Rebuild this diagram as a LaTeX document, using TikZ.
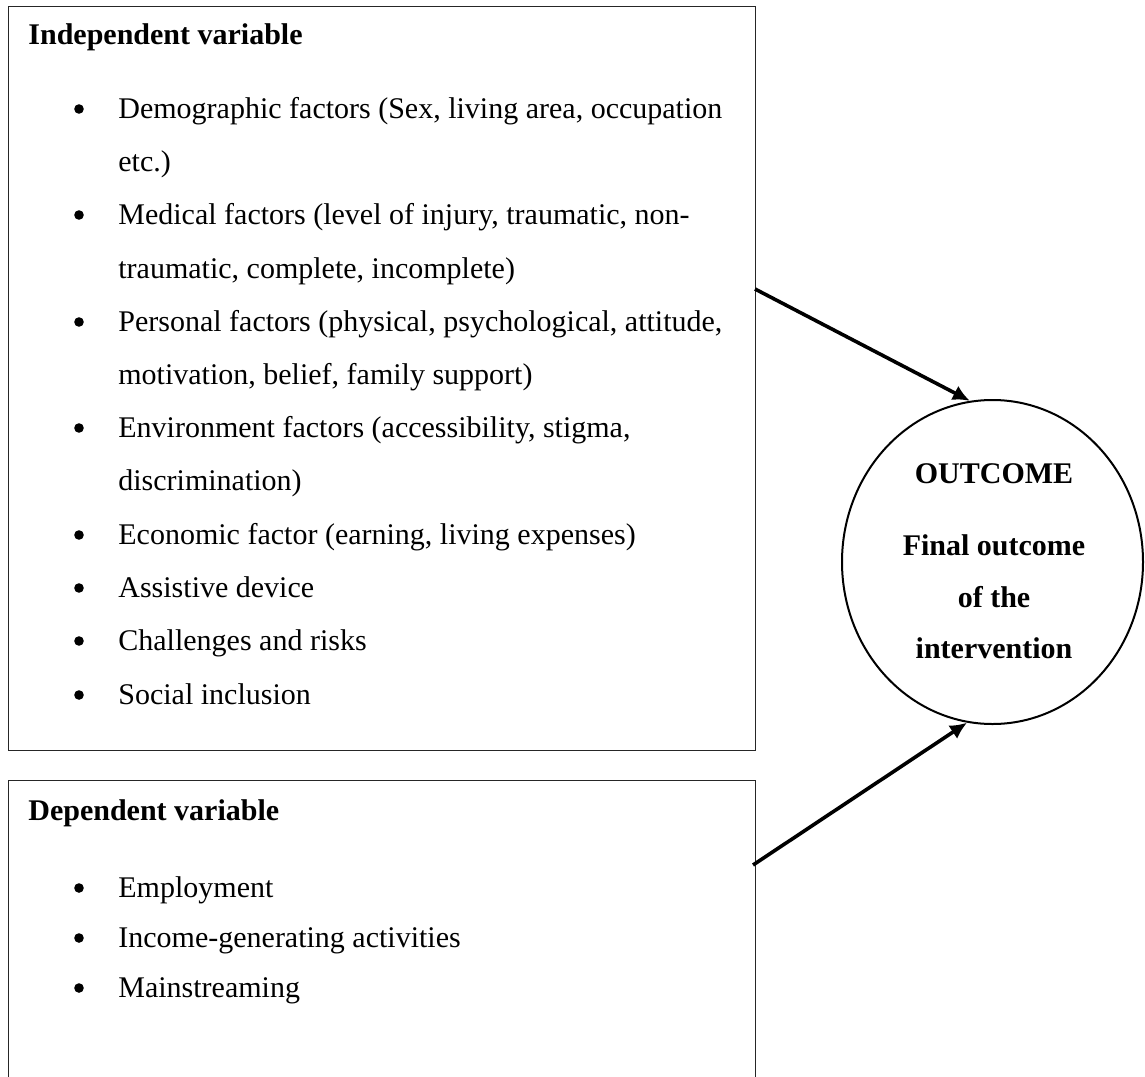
\documentclass[tikz,border=0pt]{standalone}
\usepackage{fontspec}
\setmainfont{Liberation Serif}
\usetikzlibrary{arrows.meta, shapes.geometric}

\tikzset{
  varbox/.style={draw=black!85, line width=0.7pt, rectangle, inner sep=0pt, anchor=north west},
  txt/.style={anchor=base west, inner sep=0pt, font=\fontsize{15}{18}\selectfont},
  head/.style={txt, font=\fontsize{15}{18}\selectfont\bfseries},
  dot/.style={circle, fill, inner sep=0pt, minimum size=4.8pt, yshift=4.5pt},
  outtxt/.style={anchor=base, inner sep=0pt, font=\fontsize{15}{18}\selectfont\bfseries},
  flow/.style={line width=1.8pt, -{Latex[length=8.5pt,width=8pt]}},
}

\begin{document}
\begin{tikzpicture}[x=0.5pt, y=-0.5pt]
  \useasboundingbox (0,0) rectangle (1145,1076);
  \clip (0,0) rectangle (1145,1076);
  % boxes
  \node[varbox, minimum width=373.5pt, minimum height=372pt] (indep) at (8,6) {};
  \node[varbox, minimum width=373.5pt, minimum height=160pt] (dep) at (8,780) {};
  \node[ellipse, draw, line width=1pt, inner sep=0pt, minimum width=150.5pt, minimum height=162pt] (outc) at (992.5,562) {};
  % independent variable
  \node[head] (indephead) at (28,44) {Independent variable};
  \node[dot] (b1) at (79,118) {};
  \node[txt] (demo1) at (118,118) {Demographic factors (Sex, living area, occupation};
  \node[txt] (demo2) at (118,171) {etc.)};
  \node[dot] (b2) at (79,224) {};
  \node[txt] (med1) at (118,224) {Medical factors (level of injury, traumatic, non-};
  \node[txt] (med2) at (118,278) {traumatic, complete, incomplete)};
  \node[dot] (b3) at (79,331) {};
  \node[txt] (pers1) at (118,331) {Personal factors (physical, psychological, attitude,};
  \node[txt] (pers2) at (118,384) {motivation, belief, family support)};
  \node[dot] (b4) at (79,437) {};
  \node[txt] (env1) at (118,437) {Environment factors (accessibility, stigma,};
  \node[txt] (env2) at (118,490) {discrimination)};
  \node[dot] (b5) at (79,544) {};
  \node[txt] (econ) at (118,544) {Economic factor (earning, living expenses)};
  \node[dot] (b6) at (79,597) {};
  \node[txt] (assist) at (118,597) {Assistive device};
  \node[dot] (b7) at (79,650) {};
  \node[txt] (chall) at (118,650) {Challenges and risks};
  \node[dot] (b8) at (79,704) {};
  \node[txt] (social) at (118,704) {Social inclusion};
  % dependent variable
  \node[head] (dephead) at (28,820) {Dependent variable};
  \node[dot] (b9) at (79,897) {};
  \node[txt] (employ) at (118,897) {Employment};
  \node[dot] (b10) at (79,947) {};
  \node[txt] (income) at (118,947) {Income-generating activities};
  \node[dot] (b11) at (79,997) {};
  \node[txt] (mainst) at (118,997) {Mainstreaming};
  % outcome
  \node[outtxt] (outhead) at (994,483) {OUTCOME};
  \node[outtxt] (outl1) at (994,555) {Final outcome};
  \node[outtxt] (outl2) at (994,607) {of the};
  \node[outtxt] (outl3) at (994,658) {intervention};
  % arrows
  \coordinate (s1) at (755,289);
  \coordinate (s2) at (753,865);
  \draw[flow] (s1) -- (outc.98);
  \draw[flow] (s2) -- (outc.261);
\end{tikzpicture}
\end{document}
